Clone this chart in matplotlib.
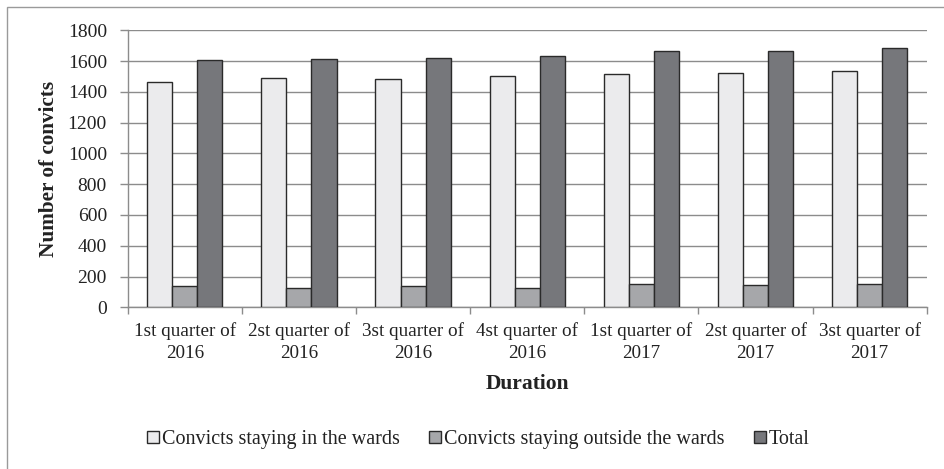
import matplotlib
matplotlib.use("Agg")
import matplotlib.pyplot as plt
from matplotlib.lines import Line2D
from matplotlib.patches import Rectangle
import numpy as np

categories = ["1st quarter of\n2016", "2st quarter of\n2016", "3st quarter of\n2016",
              "4st quarter of\n2016", "1st quarter of\n2017", "2st quarter of\n2017",
              "3st quarter of\n2017"]
in_wards = [1466, 1488, 1484, 1505, 1514, 1523, 1534]
outside_wards = [141, 126, 136, 126, 154, 143, 154]
total = [1609, 1614, 1622, 1635, 1666, 1668, 1688]
series_names = ["Convicts staying in the wards", "Convicts staying outside the wards", "Total"]
colors = ["#EBEBED", "#A6A7AA", "#76777B"]
yticks = [0, 200, 400, 600, 800, 1000, 1200, 1400, 1600, 1800]

plt.rcParams['font.family'] = ['Liberation Serif', 'DejaVu Serif']
txt = "#222222"
grid_c = "#8C8C8C"

fig = plt.figure(figsize=(9.44, 4.69), dpi=100)
ax = fig.add_axes([0.1353, 0.3448, 0.8464, 0.5906])

x = np.arange(len(categories))
w = 0.22
for k, (vals, c) in enumerate(zip([in_wards, outside_wards, total], colors)):
    ax.bar(x + (k - 1) * w, vals, w, color=c, edgecolor="#2A2A2A", linewidth=1.0, zorder=3)

ax.set_xlim(-0.5, len(categories) - 0.5)
ax.set_ylim(0, 1800)
ax.set_yticks(yticks)
ax.set_yticklabels([str(v) for v in yticks], fontsize=14, color=txt)
ax.yaxis.grid(True, color=grid_c, linewidth=1.0, zorder=0)
ax.set_axisbelow(True)

ax.set_xticks(x)
ax.set_xticklabels(categories, fontsize=13.8, color=txt, linespacing=1.32)
ax.tick_params(axis="x", which="major", length=0, pad=11)
ax.set_xticks(np.arange(-0.5, len(categories), 1.0), minor=True)
ax.tick_params(axis="x", which="minor", length=5, color=grid_c, width=1.0, direction="out")
ax.tick_params(axis="y", length=6, color=grid_c, width=1.0, pad=9)

for s in ["top", "right"]:
    ax.spines[s].set_visible(False)
for s in ["left", "bottom"]:
    ax.spines[s].set_color(grid_c)
    ax.spines[s].set_linewidth(1.0)

ax.set_ylabel("Number of convicts", fontsize=15.3, fontweight="bold", color=txt, labelpad=6)
ax.set_xlabel("Duration", fontsize=15.5, fontweight="bold", color=txt, labelpad=9)

handles = [Line2D([0], [0], marker="s", linestyle="none", markersize=8,
                  markerfacecolor=c, markeredgecolor="#2A2A2A", markeredgewidth=1.0)
           for c in colors]
fig.legend(handles, series_names, loc="center", bbox_to_anchor=(0.505, 0.062), ncol=3,
           frameon=False, fontsize=14.5, handletextpad=0.0, columnspacing=1.3,
           handlelength=0.9, labelcolor=txt)

# outer border
fig.patches.append(Rectangle((7 / 944, -0.05), 1.2, 1 - 7 / 469 + 0.05, transform=fig.transFigure,
                             fill=False, edgecolor="#9A9A9A", linewidth=1.0))

fig.savefig("out.png", dpi=100)
